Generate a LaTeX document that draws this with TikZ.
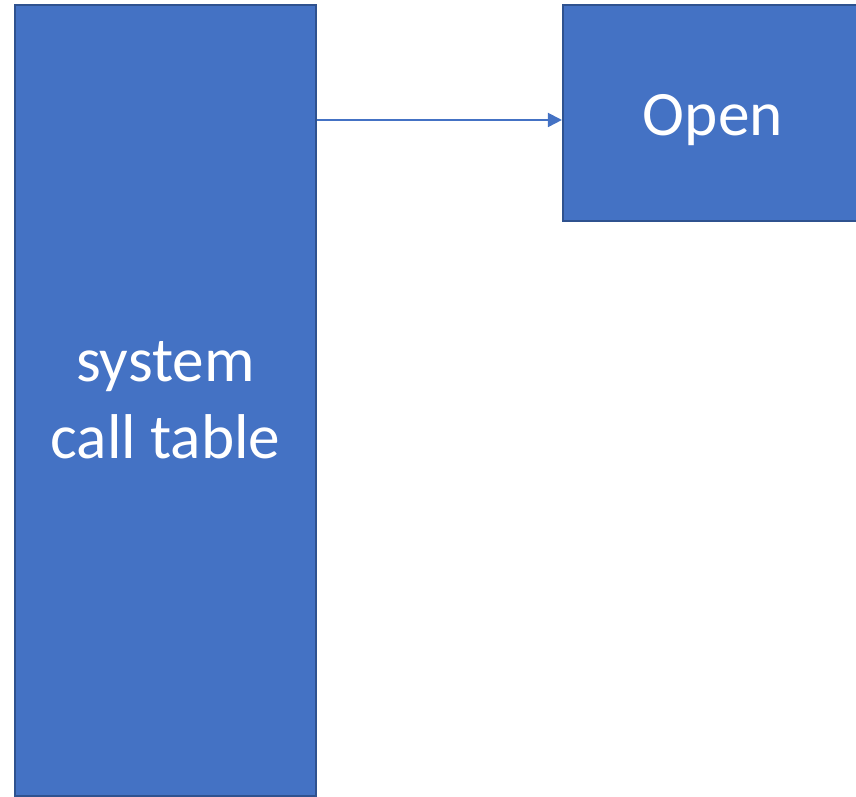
\documentclass[tikz,border=0pt]{standalone}
\usepackage{fontspec}
\setmainfont{Carlito}
\usepackage{tikz}
\usetikzlibrary{arrows.meta, positioning}
\definecolor{boxfill}{HTML}{4472C4}
\definecolor{boxline}{HTML}{2F528F}
\tikzstyle{block} = [rectangle, draw=boxline, line width=1.1pt, fill=boxfill, text=white, align=center, font=\fontsize{36}{44}\selectfont, inner sep=0pt]
\tikzstyle{arrow} = [draw=boxfill, line width=1.1pt, -{Triangle[length=0.28cm, width=0.28cm]}]

\begin{document}
\begin{tikzpicture}
\useasboundingbox (0,0) rectangle (17.12,-15.92);
% NODES
\node (table) [block, minimum width=6.02cm, minimum height=15.82cm, anchor=north west] at (0.28,-0.08) {\raisebox{-0.08cm}[\height][\depth]{\begin{tabular}{@{}c@{}}system\\call table\end{tabular}}};
\node (open) [block, minimum width=6cm, minimum height=4.32cm, right=4.9cm of table.north east, anchor=north west] {\raisebox{-0.14cm}[\height][\depth]{Open}};

% ARROWS
\draw [arrow] (table.east |- open.west) ++(0,-0.14) coordinate (from) -- (from -| open.west);
\end{tikzpicture}
\end{document}
